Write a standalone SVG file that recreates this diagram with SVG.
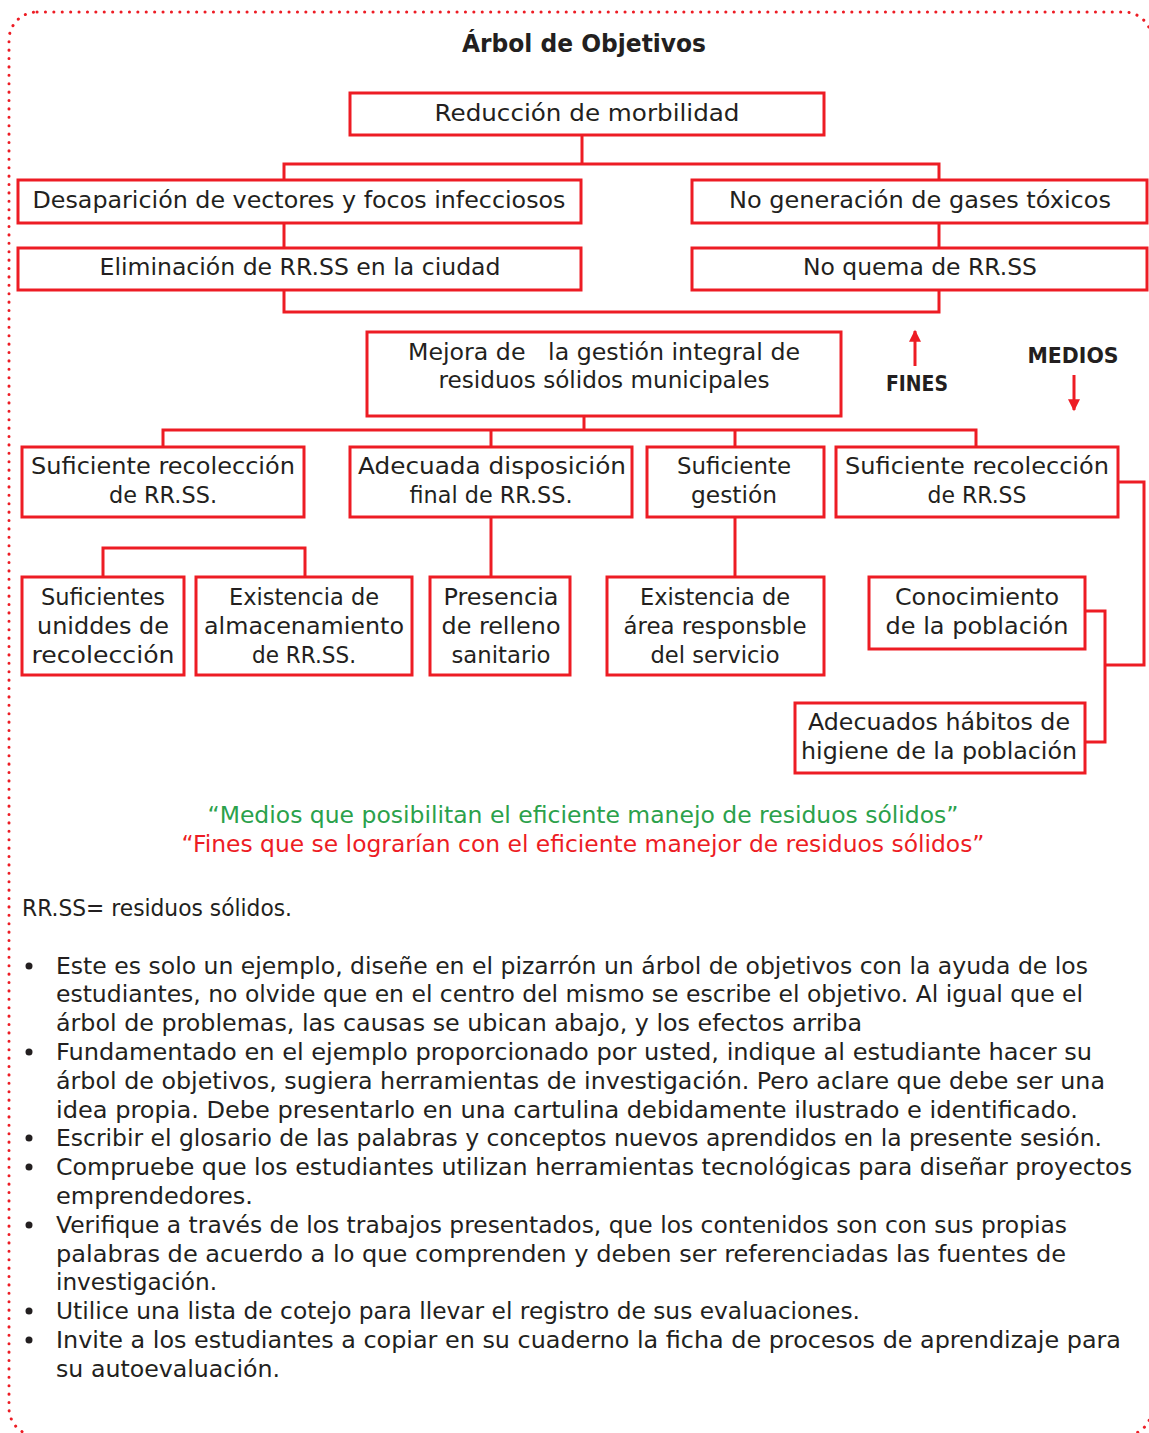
<svg xmlns="http://www.w3.org/2000/svg" width="1149" height="1433" viewBox="0 0 1149 1433">
<style>
.frame{fill:none;stroke:#ED1C24;stroke-width:3;stroke-linecap:round;stroke-dasharray:0.1 8.3}
.box{fill:#fff;stroke:#ED1C24;stroke-width:3}
.ln{fill:none;stroke:#ED1C24;stroke-width:3}
.t{font-family:"DejaVu Sans","Liberation Sans",sans-serif;font-size:23px;fill:#231F20;text-anchor:middle}
.b{font-family:"DejaVu Sans","Liberation Sans",sans-serif;font-weight:bold;fill:#231F20;text-anchor:middle}
.p{font-family:"DejaVu Sans","Liberation Sans",sans-serif;font-size:23px;fill:#231F20}
.g{font-family:"DejaVu Sans","Liberation Sans",sans-serif;font-size:23px;fill:#2BA14B;text-anchor:middle}
.r{font-family:"DejaVu Sans","Liberation Sans",sans-serif;font-size:23px;fill:#ED1C24;text-anchor:middle}
</style>
<defs>
<marker id="ah" viewBox="0 0 10 10" refX="9" refY="5" markerWidth="4.5" markerHeight="4" orient="auto" markerUnits="strokeWidth">
<path d="M0,0 L10,5 L0,10 z" fill="#ED1C24"/>
</marker>
</defs>
<rect width="1149" height="1433" fill="#fff"/>
<rect class="frame" x="9" y="12" width="1143" height="1424" rx="28"/>

<text class="b" x="584" y="52" font-size="24" textLength="244" lengthAdjust="spacingAndGlyphs">Árbol de Objetivos</text>

<g id="connectors">
<polyline class="ln" points="582,135 582,164"/>
<polyline class="ln" points="284,180 284,164 939,164 939,180"/>
<polyline class="ln" points="284,223 284,248"/>
<polyline class="ln" points="939,223 939,248"/>
<polyline class="ln" points="284,290 284,312 939,312 939,290"/>
<polyline class="ln" points="584,416 584,430"/>
<polyline class="ln" points="163,447 163,430 976,430 976,447"/>
<polyline class="ln" points="491,430 491,447"/>
<polyline class="ln" points="735,430 735,447"/>
<polyline class="ln" points="103,577 103,548 305,548 305,577"/>
<polyline class="ln" points="491,517 491,577"/>
<polyline class="ln" points="735,517 735,577"/>
<polyline class="ln" points="1118,482 1144,482 1144,665 1105,665"/>
<polyline class="ln" points="1085,611 1105,611 1105,742 1085,742"/>
<line x1="915" y1="366" x2="915" y2="331" stroke="#ED1C24" stroke-width="3" marker-end="url(#ah)"/>
<line x1="1074" y1="375" x2="1074" y2="410" stroke="#ED1C24" stroke-width="3" marker-end="url(#ah)"/>
</g>

<g id="n1"><rect class="box" x="350" y="93" width="474" height="42"/>
<text class="t" x="587" y="121" textLength="305" lengthAdjust="spacingAndGlyphs">Reducción de morbilidad</text></g>

<g id="n2"><rect class="box" x="18" y="180" width="563" height="43"/>
<text class="t" x="299" y="208" textLength="533" lengthAdjust="spacingAndGlyphs">Desaparición de vectores y focos infecciosos</text></g>

<g id="n3"><rect class="box" x="692" y="180" width="455" height="43"/>
<text class="t" x="920" y="208" textLength="382" lengthAdjust="spacingAndGlyphs">No generación de gases tóxicos</text></g>

<g id="n4"><rect class="box" x="18" y="248" width="563" height="42"/>
<text class="t" x="300" y="275" textLength="401" lengthAdjust="spacingAndGlyphs">Eliminación de RR.SS en la ciudad</text></g>

<g id="n5"><rect class="box" x="692" y="248" width="455" height="42"/>
<text class="t" x="920" y="275" textLength="234" lengthAdjust="spacingAndGlyphs">No quema de RR.SS</text></g>

<g id="n6"><rect class="box" x="367" y="332" width="474" height="84"/>
<text class="t" x="604" y="360" textLength="392" lengthAdjust="spacingAndGlyphs" style="white-space:pre">Mejora de   la gestión integral de</text>
<text class="t" x="604" y="388" textLength="331" lengthAdjust="spacingAndGlyphs">residuos sólidos municipales</text></g>

<g id="fines"><text class="b" x="917" y="391" font-size="22" textLength="62" lengthAdjust="spacingAndGlyphs">FINES</text></g>
<g id="medios"><text class="b" x="1073" y="363" font-size="22" textLength="91" lengthAdjust="spacingAndGlyphs">MEDIOS</text></g>

<g id="n7"><rect class="box" x="22" y="447" width="282" height="70"/>
<text class="t" x="163" y="474" textLength="264" lengthAdjust="spacingAndGlyphs">Suficiente recolección</text>
<text class="t" x="163" y="503" textLength="108" lengthAdjust="spacingAndGlyphs">de RR.SS.</text></g>

<g id="n8"><rect class="box" x="350" y="447" width="282" height="70"/>
<text class="t" x="492" y="474" textLength="268" lengthAdjust="spacingAndGlyphs">Adecuada disposición</text>
<text class="t" x="491" y="503" textLength="163" lengthAdjust="spacingAndGlyphs">final de RR.SS.</text></g>

<g id="n9"><rect class="box" x="647" y="447" width="177" height="70"/>
<text class="t" x="734" y="474" textLength="114" lengthAdjust="spacingAndGlyphs">Suficiente</text>
<text class="t" x="734" y="503" textLength="86" lengthAdjust="spacingAndGlyphs">gestión</text></g>

<g id="n10"><rect class="box" x="836" y="447" width="282" height="70"/>
<text class="t" x="977" y="474" textLength="264" lengthAdjust="spacingAndGlyphs">Suficiente recolección</text>
<text class="t" x="977" y="503" textLength="99" lengthAdjust="spacingAndGlyphs">de RR.SS</text></g>

<g id="n11"><rect class="box" x="22" y="577" width="162" height="98"/>
<text class="t" x="103" y="605" textLength="124" lengthAdjust="spacingAndGlyphs">Suficientes</text>
<text class="t" x="103" y="634" textLength="132" lengthAdjust="spacingAndGlyphs">uniddes de</text>
<text class="t" x="103" y="663" textLength="143" lengthAdjust="spacingAndGlyphs">recolección</text></g>

<g id="n12"><rect class="box" x="196" y="577" width="216" height="98"/>
<text class="t" x="304" y="605" textLength="150" lengthAdjust="spacingAndGlyphs">Existencia de</text>
<text class="t" x="304" y="634" textLength="200" lengthAdjust="spacingAndGlyphs">almacenamiento</text>
<text class="t" x="304" y="663" textLength="104" lengthAdjust="spacingAndGlyphs">de RR.SS.</text></g>

<g id="n13"><rect class="box" x="430" y="577" width="140" height="98"/>
<text class="t" x="501" y="605" textLength="115" lengthAdjust="spacingAndGlyphs">Presencia</text>
<text class="t" x="501" y="634" textLength="119" lengthAdjust="spacingAndGlyphs">de relleno</text>
<text class="t" x="501" y="663" textLength="99" lengthAdjust="spacingAndGlyphs">sanitario</text></g>

<g id="n14"><rect class="box" x="607" y="577" width="217" height="98"/>
<text class="t" x="715" y="605" textLength="150" lengthAdjust="spacingAndGlyphs">Existencia de</text>
<text class="t" x="715" y="634" textLength="183" lengthAdjust="spacingAndGlyphs">área responsble</text>
<text class="t" x="715" y="663" textLength="129" lengthAdjust="spacingAndGlyphs">del servicio</text></g>

<g id="n15"><rect class="box" x="869" y="577" width="216" height="72"/>
<text class="t" x="977" y="605" textLength="164" lengthAdjust="spacingAndGlyphs">Conocimiento</text>
<text class="t" x="977" y="634" textLength="183" lengthAdjust="spacingAndGlyphs">de la población</text></g>

<g id="n16"><rect class="box" x="795" y="703" width="290" height="70"/>
<text class="t" x="939" y="730" textLength="262" lengthAdjust="spacingAndGlyphs">Adecuados hábitos de</text>
<text class="t" x="939" y="759" textLength="276" lengthAdjust="spacingAndGlyphs">higiene de la población</text></g>

<g id="notes">
<text class="g" x="583" y="823" textLength="751" lengthAdjust="spacingAndGlyphs">“Medios que posibilitan el eficiente manejo de residuos sólidos”</text>
<text class="r" x="583" y="852" textLength="803" lengthAdjust="spacingAndGlyphs">“Fines que se lograrían con el eficiente manejor de residuos sólidos”</text>
<text class="p" x="22" y="916" textLength="270" lengthAdjust="spacingAndGlyphs">RR.SS= residuos sólidos.</text>
</g>

<g id="bullets" fill="#231F20">
<circle cx="29" cy="966" r="3.5"/>
<circle cx="29" cy="1052" r="3.5"/>
<circle cx="29" cy="1138" r="3.5"/>
<circle cx="29" cy="1167" r="3.5"/>
<circle cx="29" cy="1225" r="3.5"/>
<circle cx="29" cy="1311" r="3.5"/>
<circle cx="29" cy="1340" r="3.5"/>
<text class="p" x="56" y="974" textLength="1032" lengthAdjust="spacingAndGlyphs">Este es solo un ejemplo, diseñe en el pizarrón un árbol de objetivos con la ayuda de los</text>
<text class="p" x="56" y="1002" textLength="1027" lengthAdjust="spacingAndGlyphs">estudiantes, no olvide que en el centro del mismo se escribe el objetivo. Al igual que el</text>
<text class="p" x="56" y="1031" textLength="806" lengthAdjust="spacingAndGlyphs">árbol de problemas, las causas se ubican abajo, y los efectos arriba</text>
<text class="p" x="56" y="1060" textLength="1036" lengthAdjust="spacingAndGlyphs">Fundamentado en el ejemplo proporcionado por usted, indique al estudiante hacer su</text>
<text class="p" x="56" y="1089" textLength="1049" lengthAdjust="spacingAndGlyphs">árbol de objetivos, sugiera herramientas de investigación. Pero aclare que debe ser una</text>
<text class="p" x="56" y="1118" textLength="1022" lengthAdjust="spacingAndGlyphs">idea propia. Debe presentarlo en una cartulina debidamente ilustrado e identificado.</text>
<text class="p" x="56" y="1146" textLength="1046" lengthAdjust="spacingAndGlyphs">Escribir el glosario de las palabras y conceptos nuevos aprendidos en la presente sesión.</text>
<text class="p" x="56" y="1175" textLength="1076" lengthAdjust="spacingAndGlyphs">Compruebe que los estudiantes utilizan herramientas tecnológicas para diseñar proyectos</text>
<text class="p" x="56" y="1204" textLength="197" lengthAdjust="spacingAndGlyphs">emprendedores.</text>
<text class="p" x="56" y="1233" textLength="1011" lengthAdjust="spacingAndGlyphs">Verifique a través de los trabajos presentados, que los contenidos son con sus propias</text>
<text class="p" x="56" y="1262" textLength="1010" lengthAdjust="spacingAndGlyphs">palabras de acuerdo a lo que comprenden y deben ser referenciadas las fuentes de</text>
<text class="p" x="56" y="1290" textLength="161" lengthAdjust="spacingAndGlyphs">investigación.</text>
<text class="p" x="56" y="1319" textLength="804" lengthAdjust="spacingAndGlyphs">Utilice una lista de cotejo para llevar el registro de sus evaluaciones.</text>
<text class="p" x="56" y="1348" textLength="1065" lengthAdjust="spacingAndGlyphs">Invite a los estudiantes a copiar en su cuaderno la ficha de procesos de aprendizaje para</text>
<text class="p" x="56" y="1377" textLength="224" lengthAdjust="spacingAndGlyphs">su autoevaluación.</text>
</g>
</svg>
